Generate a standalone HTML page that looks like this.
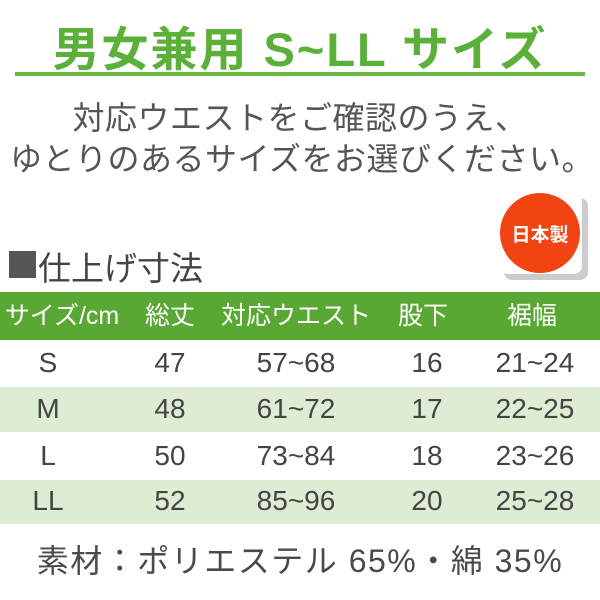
<!DOCTYPE html>
<html><head><meta charset="utf-8"><style>
body{margin:0;width:600px;height:600px;background:#fff;position:relative;overflow:hidden;font-family:"Liberation Sans","Noto Sans CJK JP",sans-serif;}
.a{position:absolute;white-space:nowrap;}
.c{position:absolute;transform:translateX(-50%);white-space:nowrap;}
.row{position:absolute;left:0;width:600px;}
.cell{position:absolute;transform:translateX(-50%);font-size:28px;color:#444;line-height:1;}
.h{position:absolute;transform:translateX(-50%);font-size:25px;color:#fff;line-height:1;}
</style></head><body>
<div class="c" style="left:300px;top:11px;font-size:47px;font-weight:bold;color:#5bb03a;letter-spacing:2px;">男女兼用 S~LL サイズ</div>
<div class="a" style="left:15px;top:72px;width:570px;height:4px;background:#6bb844;"></div>
<div class="c" style="left:300px;top:93px;font-size:32px;color:#555;letter-spacing:0.5px;">対応ウエストをご確認のうえ、</div>
<div class="c" style="left:302px;top:134px;font-size:32px;color:#555;letter-spacing:0.5px;">ゆとりのあるサイズをお選びください。</div>
<div class="a" style="left:504px;top:198px;width:84px;height:82px;background:#ccc;border-radius:8px;"></div>
<div class="a" style="left:500px;top:192px;width:82px;height:82px;background:#fff;border-radius:8px;"></div>
<div class="a" style="left:500px;top:193px;width:80px;height:80px;background:#f24312;border-radius:50%;"></div>
<div class="c" style="left:540px;top:220px;font-size:19px;font-weight:bold;color:#fff;">日本製</div>
<div class="a" style="left:9px;top:251px;width:27px;height:27px;background:#555;"></div>
<div class="a" style="left:38px;top:242px;font-size:33px;color:#444;">仕上げ寸法</div>
<div class="row" style="top:292px;height:48px;background:#5aa834;">
<div class="h" style="left:62px;top:12px;">サイズ/cm</div>
<div class="h" style="left:170px;top:12px;">総丈</div>
<div class="h" style="left:296px;top:12px;">対応ウエスト</div>
<div class="h" style="left:423px;top:12px;">股下</div>
<div class="h" style="left:532px;top:12px;">裾幅</div>
</div>
<div class="row" style="top:340px;height:47px;">
<div class="cell" style="left:48px;top:9px;">S</div><div class="cell" style="left:170px;top:9px;">47</div><div class="cell" style="left:296px;top:9px;">57~68</div><div class="cell" style="left:427px;top:9px;">16</div><div class="cell" style="left:535px;top:9px;">21~24</div></div>
<div class="row" style="top:387px;height:45px;background:#deecd4;">
<div class="cell" style="left:48px;top:8px;">M</div><div class="cell" style="left:170px;top:8px;">48</div><div class="cell" style="left:296px;top:8px;">61~72</div><div class="cell" style="left:427px;top:8px;">17</div><div class="cell" style="left:535px;top:8px;">22~25</div></div>
<div class="row" style="top:432px;height:48px;">
<div class="cell" style="left:48px;top:10px;">L</div><div class="cell" style="left:170px;top:10px;">50</div><div class="cell" style="left:296px;top:10px;">73~84</div><div class="cell" style="left:427px;top:10px;">18</div><div class="cell" style="left:535px;top:10px;">23~26</div></div>
<div class="row" style="top:480px;height:44px;background:#deecd4;">
<div class="cell" style="left:48px;top:7px;">LL</div><div class="cell" style="left:170px;top:7px;">52</div><div class="cell" style="left:296px;top:7px;">85~96</div><div class="cell" style="left:427px;top:7px;">20</div><div class="cell" style="left:535px;top:7px;">25~28</div></div>
<div class="c" style="left:300px;top:536px;font-size:32px;color:#4a4a4a;letter-spacing:1.5px;">素材：ポリエステル 65%・綿 35%</div>
</body></html>
